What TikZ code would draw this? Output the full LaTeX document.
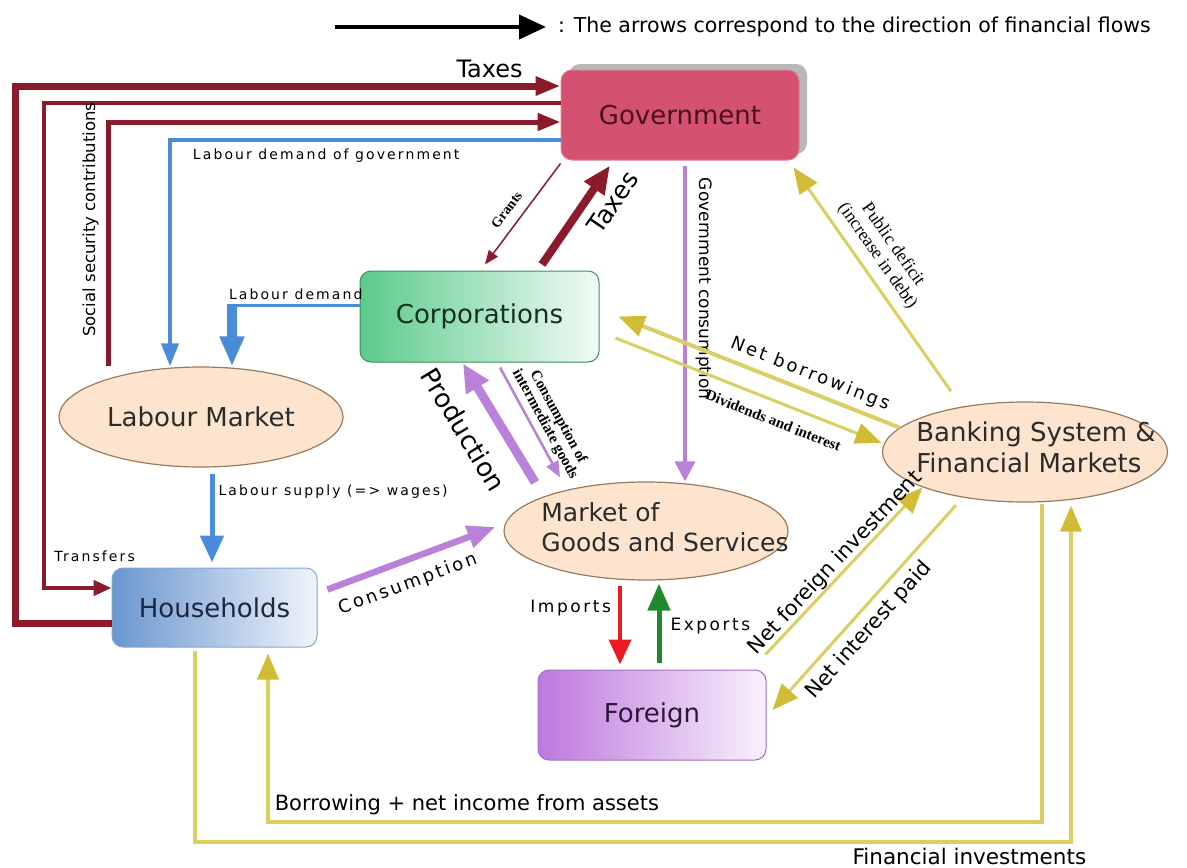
\documentclass[tikz,border=0pt]{standalone}
\usepackage{fontspec}
\setmainfont{DejaVu Sans}
\newfontfamily\spacedfont[LetterSpace=15]{DejaVu Sans}
\newfontfamily\labelserif{Liberation Serif}
\usetikzlibrary{arrows.meta,shapes.geometric,shadows}

\definecolor{govred}{HTML}{D4516F}
\definecolor{govtext}{HTML}{4A1022}
\definecolor{shadowgray}{HTML}{B8B8B8}
\definecolor{taxred}{HTML}{8B1A2C}
\definecolor{labblue}{HTML}{4A8CD8}
\definecolor{goodspurple}{HTML}{B981DA}
\definecolor{finyellow}{HTML}{D9CF62}
\definecolor{finhead}{HTML}{D3BC35}
\definecolor{peach}{HTML}{FDE4CF}
\definecolor{peachline}{HTML}{9B7A5C}
\definecolor{corpgreen}{HTML}{5BCB8B}
\definecolor{corpline}{HTML}{3F8E5E}
\definecolor{corptext}{HTML}{17301F}
\definecolor{housblue}{HTML}{6A96CF}
\definecolor{housline}{HTML}{7FA7D9}
\definecolor{housetext}{HTML}{1B2741}
\definecolor{forpurple}{HTML}{BE78DD}
\definecolor{forline}{HTML}{A070C0}
\definecolor{fortext}{HTML}{2A1836}
\definecolor{imred}{HTML}{EA1B22}
\definecolor{exgreen}{HTML}{1E8A2C}
\definecolor{darktext}{HTML}{2B2B2B}

\begin{document}
\begin{tikzpicture}[x=1pt, y=-1pt,
    every node/.style={inner sep=2pt},
    nodefont/.style={font=\fontsize{26}{31}\selectfont},
    sector/.style={rectangle, rounded corners=11pt, line width=1pt, nodefont},
    market/.style={ellipse, draw=peachline, fill=peach, line width=1.2pt, inner sep=0pt,
        minimum width=284pt, minimum height=100pt, text=darktext, nodefont},
    headsize/.style 2 args={-{Triangle[length=#1pt, width=#2pt]}},
    taxflow/.style={draw=taxred},
    labflow/.style={draw=labblue},
    goodsflow/.style={draw=goodspurple},
    finflow/.style={draw=finyellow, line width=3pt, -{Triangle[length=26pt, width=21pt, color=finhead]}},
    edgefont/.style={font=\fontsize{#1}{#1}\selectfont},
    spaced/.style={font=\spacedfont\fontsize{#1}{#1}\selectfont},
    tinyserif/.style={font=\labelserif\bfseries\fontsize{#1}{#1}\selectfont}
]
\useasboundingbox (0,0) rectangle (1187,868);

% Legend
\coordinate (legtail) at (335,27);
\node[anchor=west, inner sep=0pt, edgefont=20.5] (legend) at (558,27) {: The arrows correspond to the direction of financial flows};
\draw[line width=4pt, headsize={27}{24}] (legtail) -- ([xshift=-12pt]legend.west);

% Sectors and markets
\node[sector, draw=govred!75!white, fill=govred, text=govtext, minimum width=238pt, minimum height=90pt,
    drop shadow={shadow xshift=8pt, shadow yshift=6pt, fill=shadowgray, opacity=1}] (gov) at (680,115) {Government};
\node[sector, draw=corpline, left color=corpgreen, right color=corpgreen!8, text=corptext,
    minimum width=239pt, minimum height=91pt] (corp) at (479.5,316.5) {Corporations};
\node[market] (labmkt) at (201,417) {Labour Market};
\node[sector, draw=housline, left color=housblue, right color=housblue!10, text=housetext,
    minimum width=205pt, minimum height=79pt] (house) at (214.5,607.5) {Households};
\node[market, minimum height=98pt,
    label={[align=left, text=darktext, font=\fontsize{25}{30}\selectfont, xshift=19pt, yshift=4pt]center:Market of\\Goods and Services}] (goods) at (646,531) {};
\node[market, minimum width=285pt,
    label={[align=left, text=darktext, font=\fontsize{26}{31}\selectfont, xshift=11pt, yshift=4.5pt]center:Banking System \&\\Financial Markets}] (bank) at (1025,452) {};
\node[sector, draw=forline, left color=forpurple, right color=forpurple!10, text=fortext,
    minimum width=228pt, minimum height=90pt] (foreign) at (652,715) {Foreign};

% Flows towards and from government
\draw[taxflow, line width=7pt, headsize={25}{18}] ([yshift=-16pt]house.west) -| (15,86)
    -- node[pos=0.87, above=3pt, edgefont=24]{Taxes} (gov.west |- 15,86);
\draw[taxflow, line width=4.5pt, headsize={18}{15}] ([yshift=12pt]gov.west) -| (44,588)
    -- node[pos=0.75, above=22pt, spaced=14]{Transfers} (house.west |- 44,588);
\draw[taxflow, line width=5pt, headsize={23}{17}] (labmkt.north -| 108,0)
    |- node[pos=0.3, sloped, above=5pt, edgefont=16.5]{Social security contributions} (gov.west |- 0,122);
\draw[labflow, line width=4pt, headsize={23}{17}] ([yshift=-25pt]gov.west)
    -| node[pos=0.3, below=5pt, spaced=14]{Labour demand of government} (labmkt.north -| 170,0);
\draw[taxflow, line width=1.5pt, headsize={14}{11}] ([yshift=-3pt]gov.south west)
    -- node[pos=0.55, sloped, above=8pt, tinyserif=14]{Grants} ([shift={(5.5pt,6pt)}]corp.north);
\draw[taxflow, line width=8pt, headsize={28}{23}] ([shift={(62.5pt,6pt)}]corp.north)
    -- node[pos=0.76, sloped, below=8pt, edgefont=25]{Taxes} ([shift={(-70pt,-5pt)}]gov.south);

% Labour market
\coordinate (ldbend) at (232,305);
\draw[labflow, line width=3pt] (corp.west |- ldbend) -- node[above=2pt, spaced=14]{Labour demand} (ldbend);
\draw[labflow, line width=10pt, headsize={30}{23}] ([yshift=1.5pt]ldbend) -- (labmkt.north -| ldbend);
\draw[labflow, line width=5pt, headsize={27}{23}] ([shift={(11pt,-6pt)}]labmkt.south)
    -- node[pos=0.2, right=2pt, spaced=14]{Labour supply (=> wages)} ([shift={(-2.5pt,5pt)}]house.north);

% Goods and services
\coordinate (gcstart) at ([shift={(5pt,-5pt)}]gov.south);
\draw[goodsflow, line width=4pt, headsize={20}{20}] (gcstart)
    -- node[pos=0.39, rotate=-90, above=6.5pt, edgefont=17]{Government consumption} (gcstart |- goods.north);
\draw[goodsflow, line width=9pt, headsize={28}{25}] ([shift={(-111pt,-1pt)}]goods.north)
    -- node[pos=0.59, sloped, below=17pt, edgefont=26]{Production} ([shift={(-16.5pt,-1pt)}]corp.south);
\draw[goodsflow, line width=2.5pt, headsize={16}{13}] ([shift={(20.5pt,-5pt)}]corp.south)
    -- node[pos=0.57, sloped, above=2pt, align=center, font=\labelserif\bfseries\fontsize{15}{15}\selectfont]{Consumption of\\intermediate goods} ([shift={(-86pt,4pt)}]goods.north);
\draw[goodsflow, line width=6.5pt, headsize={28}{22}] ([shift={(10pt,18pt)}]house.east)
    -- node[pos=0.43, sloped, below=9pt, spaced=18]{Consumption} ([shift={(-8pt,4pt)}]goods.west);
\draw[draw=imred, line width=4pt, headsize={25}{22}] ([shift={(-26pt,-5pt)}]goods.south)
    -- node[pos=0.29, left=5pt, spaced=17]{Imports} ([shift={(-32pt,5pt)}]foreign.north);
\draw[draw=exgreen, line width=5pt, headsize={27}{22}] ([shift={(7pt,7pt)}]foreign.north)
    -- node[pos=0.46, right=7pt, spaced=17]{Exports} ([shift={(13pt,-3pt)}]goods.south);

% Financial flows
\draw[finflow, line width=4pt] (bank.169)
    -- node[pos=0.34, sloped, above=4pt, spaced=18]{Net borrowings} ([xshift=19pt]corp.east);
\draw[finflow] ([shift={(16pt,-21.5pt)}]corp.east)
    -- node[pos=0.62, sloped, below=10pt, tinyserif=15]{Dividends and interest} ([shift={(-0.5pt,9pt)}]bank.west);
\draw[finflow] ([shift={(-74pt,10pt)}]bank.north)
    -- node[pos=0.56, sloped, above=6pt, align=center, font=\labelserif\fontsize{18}{19}\selectfont]{Public deficit\\(increase in debt)} ([shift={(-6pt,-7pt)}]gov.south east);
\draw[finflow] ([shift={(-1pt,15pt)}]foreign.north east)
    -- node[sloped, above=-2pt, edgefont=21]{Net foreign investment} (bank.199);
\draw[finflow] ([shift={(-10pt,-7pt)}]bank.218)
    -- node[pos=0.55, sloped, below=5pt, edgefont=21]{Net interest paid} ([shift={(6pt,5pt)}]foreign.east);
\draw[finflow, line width=3.5pt] ([shift={(17pt,-1pt)}]bank.south) |- (268,822)
    node[above right=3pt, edgefont=21]{Borrowing + net income from assets}
    -- ([shift={(53.5pt,-6pt)}]house.south);
\draw[finflow, line width=3.5pt] ([shift={(-19.5pt,-3pt)}]house.south)
    |- node[pos=0.942, below=2pt, edgefont=21.5]{Financial investments} (1071,842)
    -- ([shift={(46pt,-3pt)}]bank.south);

\end{tikzpicture}
\end{document}
